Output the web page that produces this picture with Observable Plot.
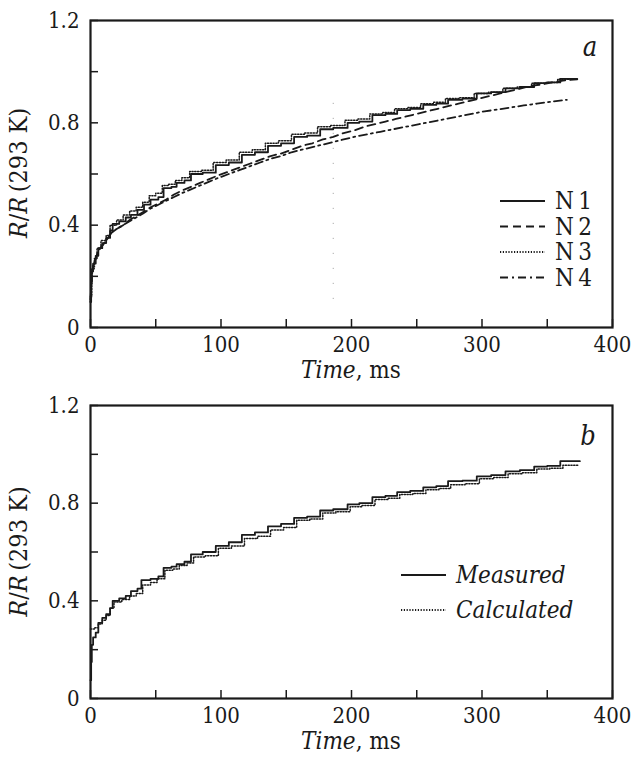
<!DOCTYPE html>
<html>
<head>
<meta charset="utf-8">
<script src="https://cdn.jsdelivr.net/npm/d3@7"></script>
<script src="https://cdn.jsdelivr.net/npm/@observablehq/plot@0.6"></script>
<style>
  html, body { margin: 0; padding: 0; background: #fff; }
  #chart { width: 633px; }
  svg { display: block; }
  .serif, .serif text { font-family: "DejaVu Serif Condensed", "DejaVu Serif", serif !important; }
</style>
</head>
<body>
<div id="chart"></div>
<script>
// ---------- data ----------
const xTicksAll = [0, 50, 100, 150, 200, 250, 300, 350, 400];
const xTicksMajor = [0, 100, 200, 300, 400];
const yTicksAll = [0, 0.2, 0.4, 0.6, 0.8, 1.0, 1.2];
const yTicksMajor = [0, 0.4, 0.8, 1.2];

// Panel a
const n1T = [0,0.5,1,2,4,6,9,12,15,17,22,27,31,36,41,46,52,56,62,66,72,77,86,96,106,116,126,136,146,156,166,176,186,197,206,216,226,235,245,255,265,274,285,296,307,318,329,340,350,360,373];
const n1V = [0.10,0.18,0.22,0.25,0.28,0.31,0.33,0.35,0.38,0.405,0.415,0.43,0.44,0.46,0.48,0.50,0.51,0.545,0.55,0.565,0.575,0.60,0.605,0.635,0.645,0.675,0.685,0.71,0.72,0.745,0.75,0.775,0.78,0.80,0.805,0.83,0.835,0.85,0.855,0.87,0.875,0.89,0.895,0.915,0.92,0.935,0.94,0.955,0.958,0.972,0.972];

const n2T = [0,1,2,4,6,9,12,16,20,25,30,35,40,46,52,58,64,70,77,84,91,98,106,114,122,130,138,146,154,162,170,178,186,194,202,210,218,226,234,242,250,258,266,274,282,290,298,306,314,322,330,338,346,354,362,373];
const n2V = [0.11,0.20,0.24,0.27,0.30,0.32,0.34,0.37,0.385,0.40,0.42,0.435,0.45,0.47,0.485,0.50,0.52,0.535,0.55,0.565,0.58,0.595,0.61,0.625,0.64,0.655,0.67,0.68,0.695,0.71,0.72,0.735,0.745,0.76,0.77,0.785,0.795,0.805,0.815,0.825,0.835,0.845,0.855,0.865,0.875,0.885,0.895,0.905,0.915,0.925,0.935,0.945,0.95,0.958,0.965,0.97];

const n3T = [0,1,3,5,8,12,15,20,25,30,35,40,45,50,55,60,65,70,76,85,94,104,114,124,134,144,154,164,174,184,195,205,214,224,233,243,253,263,272,283,294,305,316,327,338,349,358,372];
const n3V = [0.12,0.23,0.27,0.31,0.34,0.36,0.40,0.42,0.44,0.455,0.47,0.49,0.515,0.525,0.555,0.56,0.575,0.585,0.61,0.615,0.645,0.655,0.685,0.695,0.72,0.73,0.755,0.76,0.785,0.79,0.81,0.815,0.835,0.84,0.855,0.86,0.875,0.88,0.895,0.898,0.915,0.92,0.935,0.94,0.955,0.958,0.97,0.972];

const n4T = [0,1,2,4,6,9,12,16,20,25,30,35,40,46,52,58,64,70,77,84,91,98,106,114,122,130,138,146,154,162,170,178,186,194,202,212,222,232,242,252,262,272,282,292,302,312,322,332,342,352,365];
const n4V = [0.10,0.20,0.24,0.27,0.30,0.32,0.34,0.37,0.385,0.40,0.415,0.43,0.445,0.465,0.48,0.495,0.51,0.525,0.54,0.555,0.57,0.585,0.60,0.615,0.63,0.645,0.66,0.67,0.685,0.695,0.705,0.715,0.725,0.735,0.745,0.755,0.765,0.775,0.785,0.795,0.805,0.815,0.825,0.835,0.845,0.852,0.86,0.868,0.875,0.882,0.89];

// faint dotted vertical trace visible in panel a
const traceT = [186];
const traceV1 = [0.11];
const traceV2 = [0.88];

// Panel b
const measT = [0,0.5,1,2,4,6,9,12,15,17,22,27,31,36,39,46,52,56,62,66,72,77,86,96,106,116,126,136,146,156,166,176,186,197,206,216,226,235,245,255,265,274,285,296,307,318,329,340,350,360,375];
const measV = [0.075,0.15,0.22,0.25,0.27,0.31,0.33,0.345,0.37,0.40,0.41,0.42,0.44,0.45,0.485,0.49,0.50,0.535,0.54,0.55,0.56,0.59,0.60,0.625,0.64,0.67,0.68,0.705,0.715,0.74,0.745,0.77,0.775,0.795,0.80,0.825,0.83,0.845,0.85,0.865,0.87,0.89,0.892,0.91,0.915,0.93,0.935,0.95,0.953,0.972,0.972];

const calcT = [0,3,6,9,12,15,18,24,30,35,40,46,51,57,63,68,74,79,88,98,108,118,128,138,148,158,168,178,188,199,208,218,228,237,247,257,267,276,287,298,309,320,331,342,352,362,374];
const calcV = [0.285,0.29,0.305,0.32,0.34,0.37,0.395,0.405,0.42,0.43,0.465,0.475,0.49,0.525,0.53,0.545,0.555,0.58,0.585,0.615,0.625,0.655,0.665,0.69,0.70,0.73,0.735,0.76,0.765,0.785,0.79,0.815,0.82,0.835,0.84,0.855,0.86,0.875,0.88,0.90,0.905,0.92,0.925,0.94,0.943,0.955,0.957];

const legendA = ["N\u20091", "N\u20092", "N\u20093", "N\u20094"];
const legendB = ["Measured", "Calculated"];

// ---------- helpers ----------
const zip = (T, V) => T.map((t, i) => ({t, v: V[i]}));
const FONT = "'DejaVu Serif Condensed', 'DejaVu Serif', serif";
const W = 633, H = 380;
const yFmt = d => d === 0 ? "0" : d.toFixed(1);

function basePanel(lineMarks, extraMarks, mt, mb) {
  const svg = Plot.plot({
    width: W, height: H,
    marginLeft: 90, marginRight: 21, marginTop: mt, marginBottom: mb,
    style: {fontFamily: FONT, fontSize: "22px", color: "#1a1a1a", background: "#fff", overflow: "visible"},
    x: {domain: [0, 400]},
    y: {domain: [0, 1.2]},
    marks: [
      ...extraMarks,
      ...lineMarks,
      Plot.axisX({ticks: xTicksAll, tickSize: -8, tickFormat: () => "", label: null, strokeWidth: 1.5}),
      Plot.axisX({ticks: xTicksMajor, tickSize: 0, tickPadding: 9, label: null, fontSize: 22}),
      Plot.axisY({ticks: yTicksAll, tickSize: -8, tickFormat: () => "", label: null, strokeWidth: 1.5}),
      Plot.axisY({ticks: yTicksMajor, tickSize: 0, tickPadding: 11, tickFormat: yFmt, label: null, fontSize: 22}),
      Plot.frame({stroke: "#1a1a1a", strokeWidth: 2.2})
    ]
  });
  svg.classList.add("serif");
  return svg;
}

function addText(svg, x, y, parts, opts = {}) {
  const t = d3.select(svg).append("text")
    .attr("x", x).attr("y", y)
    .attr("font-family", FONT)
    .attr("font-size", opts.size || 24)
    .attr("fill", "#1a1a1a")
    .attr("text-anchor", opts.anchor || "start");
  if (opts.rotate) t.attr("transform", `rotate(-90 ${x} ${y})`);
  parts.forEach(p => {
    t.append("tspan").attr("font-style", p.italic ? "italic" : "normal").text(p.s);
  });
  return t;
}

function addLegendLine(svg, x1, x2, y, dash) {
  d3.select(svg).append("line")
    .attr("x1", x1).attr("x2", x2).attr("y1", y).attr("y2", y)
    .attr("stroke", "#1a1a1a").attr("stroke-width", 2)
    .attr("stroke-dasharray", dash || null);
}

const yLabelParts = [{s: "R", italic: true}, {s: "/"}, {s: "R", italic: true}, {s: "\u2009(293 K)"}];
const xLabelParts = [{s: "Time", italic: true}, {s: ", ms"}];

const dashes = {solid: null, dashed: "8,5", dotted: "1.2,1.6", dashdot: "8,4,2,4"};

// ---------- panel a ----------
const lineStyle = {x: "t", y: "v", stroke: "#1a1a1a"};
const svgA = basePanel([
  Plot.line(zip(n4T, n4V), {...lineStyle, strokeWidth: 1.8, strokeDasharray: dashes.dashdot}),
  Plot.line(zip(n2T, n2V), {...lineStyle, strokeWidth: 1.8, strokeDasharray: dashes.dashed}),
  Plot.line(zip(n3T, n3V), {...lineStyle, strokeWidth: 1.5, strokeDasharray: dashes.dotted, curve: "step-after"}),
  Plot.line(zip(n1T, n1V), {...lineStyle, strokeWidth: 1.8, curve: "step-after"})
], [
  Plot.ruleX(traceT.map((t, i) => ({t, v1: traceV1[i], v2: traceV2[i]})),
    {x: "t", y1: "v1", y2: "v2", stroke: "#9a9a9a", strokeWidth: 1, strokeDasharray: "1,14"})
], 20, 53);
document.getElementById("chart").appendChild(svgA);

addText(svgA, 27, 173, yLabelParts, {rotate: true, anchor: "middle", size: 25});
addText(svgA, 351, 378, xLabelParts, {anchor: "middle", size: 24});
addText(svgA, 590, 56, [{s: "a", italic: true}], {anchor: "middle", size: 27});

const legRowsA = [201, 226.5, 252, 277.5];
const legDashA = [dashes.solid, dashes.dashed, dashes.dotted, dashes.dashdot];
legendA.forEach((lab, i) => {
  addLegendLine(svgA, 500, 545, legRowsA[i], legDashA[i]);
  addText(svgA, 555, legRowsA[i] + 8, [{s: lab}], {size: 24});
});

// ---------- panel b ----------
const svgB = basePanel([
  Plot.line(zip(calcT, calcV), {...lineStyle, strokeWidth: 1.5, strokeDasharray: dashes.dotted, curve: "step-after"}),
  Plot.line(zip(measT, measV), {...lineStyle, strokeWidth: 1.8, curve: "step-after"})
], [], 25, 62);
document.getElementById("chart").appendChild(svgB);

addText(svgB, 27, 171.5, yLabelParts, {rotate: true, anchor: "middle", size: 25});
addText(svgB, 351, 369, xLabelParts, {anchor: "middle", size: 24});
addText(svgB, 588, 65, [{s: "b", italic: true}], {anchor: "middle", size: 27});

const legRowsB = [195, 230];
const legDashB = [dashes.solid, dashes.dotted];
legendB.forEach((lab, i) => {
  addLegendLine(svgB, 401, 446, legRowsB[i], legDashB[i]);
  addText(svgB, 456, legRowsB[i] + 8, [{s: lab, italic: true}], {size: 24});
});
</script>
</body>
</html>
